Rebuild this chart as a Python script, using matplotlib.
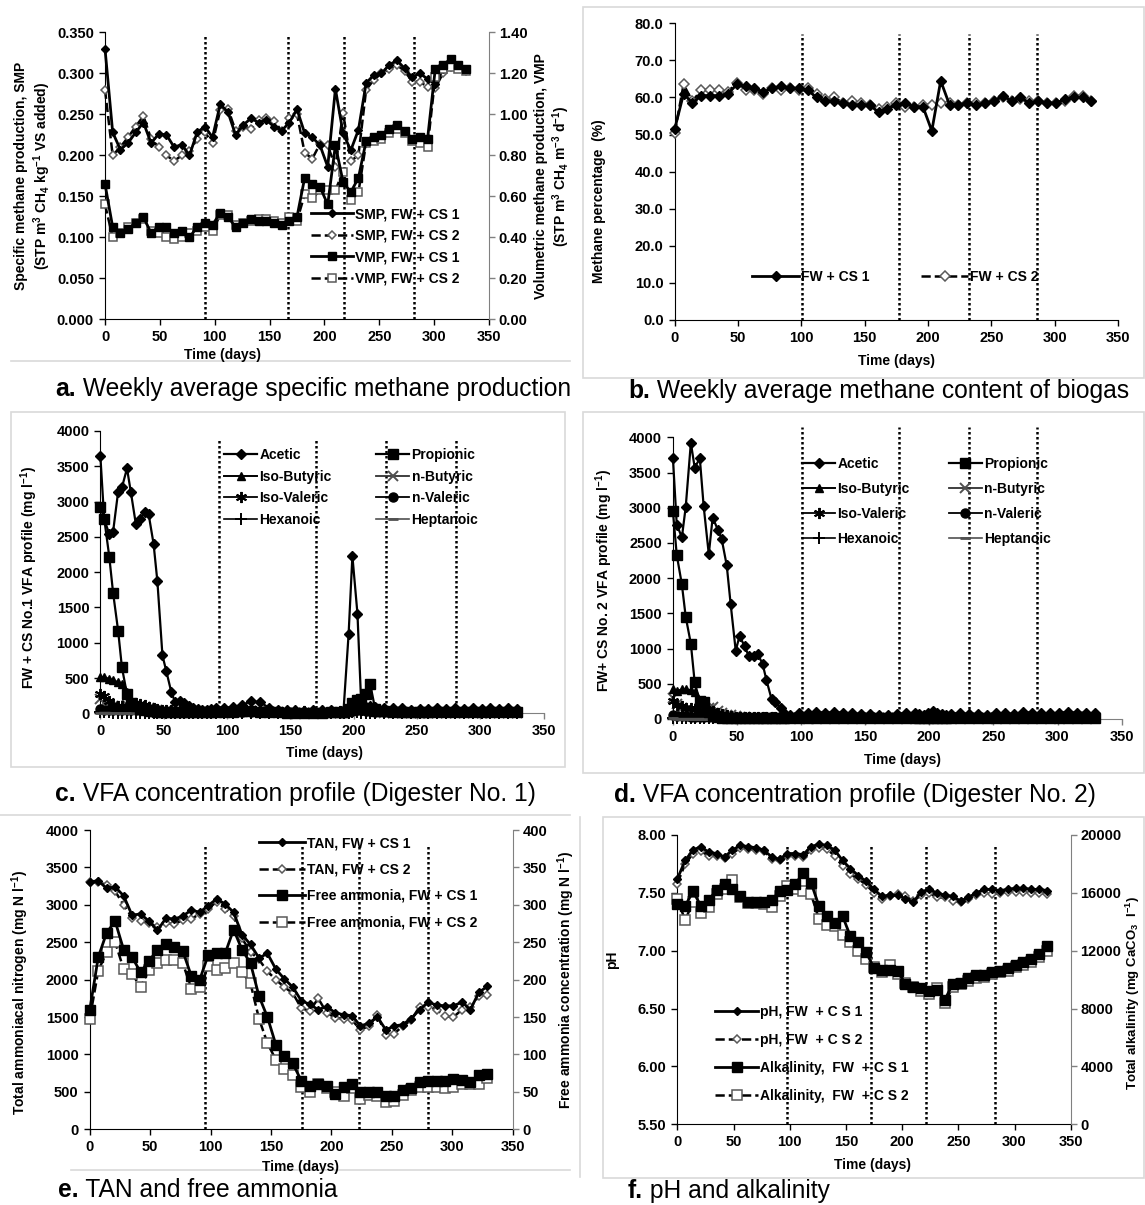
import numpy as np
import matplotlib
matplotlib.use('Agg')
import matplotlib.pyplot as plt
from matplotlib.patches import Rectangle
from matplotlib.lines import Line2D

plt.rcParams['font.family'] = ['Liberation Sans', 'DejaVu Sans']
plt.rcParams['font.weight'] = 'bold'
plt.rcParams['mathtext.fontset'] = 'custom'
plt.rcParams['mathtext.rm'] = 'Liberation Sans:bold'
plt.rcParams['mathtext.it'] = 'Liberation Sans:bold'
plt.rcParams['mathtext.bf'] = 'Liberation Sans:bold'
plt.rcParams['mathtext.default'] = 'rm'

# ---------------- DATA ----------------
DAYS = [0, 7, 14, 21, 28, 35, 42, 49, 56, 63, 70, 77, 84, 91, 98, 105, 112, 119, 126, 133,
        140, 147, 154, 161, 168, 175, 182, 189, 196, 203, 210, 217, 224, 231, 238, 245, 252,
        259, 266, 273, 280, 287, 294, 301, 308, 315, 322, 329]

SMP_CS1 = [0.330, 0.228, 0.207, 0.215, 0.228, 0.240, 0.215, 0.226, 0.225, 0.210,
           0.213, 0.200, 0.228, 0.235, 0.222, 0.262, 0.253, 0.225, 0.237, 0.245,
           0.240, 0.243, 0.235, 0.230, 0.240, 0.256, 0.227, 0.222, 0.212, 0.186,
           0.281, 0.227, 0.206, 0.231, 0.288, 0.298, 0.300, 0.310, 0.316, 0.306,
           0.295, 0.300, 0.293, 0.287, 0.305, 0.310, 0.308, 0.305]
SMP_CS2 = [0.280, 0.200, 0.210, 0.222, 0.235, 0.248, 0.220, 0.210, 0.200, 0.193,
           0.200, 0.205, 0.220, 0.228, 0.215, 0.255, 0.257, 0.230, 0.235, 0.232,
           0.243, 0.245, 0.242, 0.230, 0.245, 0.250, 0.203, 0.196, 0.214, 0.212,
           0.186, 0.252, 0.193, 0.200, 0.280, 0.292, 0.300, 0.305, 0.310, 0.303,
           0.290, 0.290, 0.283, 0.282, 0.300, 0.308, 0.307, 0.303]
VMP_CS1 = [0.66, 0.45, 0.42, 0.44, 0.47, 0.50, 0.42, 0.45, 0.45, 0.42,
           0.43, 0.40, 0.45, 0.47, 0.46, 0.52, 0.50, 0.45, 0.47, 0.49,
           0.48, 0.48, 0.47, 0.46, 0.48, 0.50, 0.69, 0.66, 0.645, 0.56,
           0.85, 0.67, 0.62, 0.69, 0.87, 0.89, 0.90, 0.93, 0.95, 0.92,
           0.88, 0.89, 0.88, 1.22, 1.24, 1.27, 1.24, 1.22]
VMP_CS2 = [0.56, 0.40, 0.42, 0.45, 0.47, 0.49, 0.43, 0.42, 0.40, 0.39,
           0.40, 0.42, 0.43, 0.45, 0.43, 0.51, 0.51, 0.46, 0.47, 0.48,
           0.49, 0.49, 0.48, 0.47, 0.50, 0.48, 0.61, 0.59, 0.63, 0.63,
           0.63, 0.72, 0.58, 0.62, 0.86, 0.87, 0.88, 0.91, 0.93, 0.91,
           0.87, 0.86, 0.84, 1.18, 1.22, 1.23, 1.22, 1.21]

CH4_CS1 = [51.5, 61.0, 58.5, 60.5, 60.5, 60.5, 61.0, 63.5, 63.0, 62.5,
           61.5, 62.5, 63.0, 62.5, 62.5, 62.0, 60.0, 59.0, 59.0, 58.5,
           58.0, 58.0, 58.0, 56.0, 57.0, 58.0, 58.5, 57.5, 57.5, 51.0,
           64.5, 58.0, 58.0, 58.5, 58.0, 58.5, 59.0, 60.5, 59.0, 60.0,
           58.5, 59.0, 58.5, 58.5, 59.5, 60.0, 60.0, 59.0]
CH4_CS2 = [50.5, 63.5, 59.0, 62.0, 62.0, 62.0, 61.5, 64.0, 62.0, 62.0,
           61.0, 62.5, 62.0, 62.5, 62.0, 62.5, 61.0, 59.5, 60.0, 58.5,
           59.0, 58.5, 58.0, 57.0, 57.5, 58.5, 57.5, 57.5, 58.0, 58.0,
           58.5, 58.5, 58.0, 58.5, 58.5, 58.5, 59.0, 60.0, 59.0, 59.5,
           59.0, 59.0, 58.5, 58.5, 59.0, 60.5, 60.5, 59.0]

VFA_DAYS = [0, 3, 7, 10, 14, 17, 21, 24, 28, 31, 35, 38, 42, 45, 49, 52, 56, 59, 63, 66,
            70, 73, 77, 80, 84, 87, 91,
            98, 105, 112, 119, 126, 133, 140, 147, 154, 161, 168, 175, 182, 189,
            192, 196, 199, 203, 206, 210, 213, 217,
            224, 231, 238, 245, 252, 259, 266, 273, 280, 287, 294, 301, 308, 315, 322, 329]

C_ACETIC = [3640, 2750, 2540, 2570, 3140, 3200, 3470, 3140, 2680, 2750,
            2850, 2830, 2400, 1870, 820, 600, 300, 160, 170, 150, 100, 70, 60, 50, 50, 60, 80,
            70, 90, 120, 170, 160, 80, 50, 40, 40, 30, 40, 40, 40, 30,
            40, 1120, 2230, 1410, 120, 90, 100, 90,
            80, 70, 80, 50, 60, 60, 70, 60, 70, 60, 70, 60, 70, 60, 70, 60]
C_PROPIONIC = [2920, 2760, 2220, 1710, 1170, 650, 270, 150, 100, 60,
               40, 30, 30, 20, 20, 20, 20, 20, 20, 20, 20, 20, 20, 20, 20, 20, 20,
               20, 20, 30, 30, 20, 20, 20, 10, 10, 10, 10, 10, 20, 20,
               20, 60, 150, 190, 200, 270, 420, 60,
               30, 20, 20, 20, 20, 20, 20, 20, 20, 20, 20, 20, 20, 20, 20, 20]
C_ISOBUTYRIC = [520, 510, 490, 470, 440, 420, 300, 160, 120, 100,
                90, 80, 70, 50, 30, 20, 20, 20, 20, 20, 20, 20, 20, 20, 20, 20, 20,
                20, 20, 20, 30, 30, 20, 20, 20, 10, 10, 10, 10, 10, 10,
                10, 20, 30, 40, 40, 40, 30, 20,
                20, 20, 10, 10, 10, 10, 20, 20, 20, 20, 20, 20, 20, 20, 20, 20]
C_NBUTYRIC = [200, 150, 120, 100, 80, 90, 120, 130, 120, 110,
              90, 70, 50, 40, 30, 30, 20, 20, 20, 20, 20, 20, 20, 20, 20, 20, 20,
              20, 20, 30, 30, 30, 20, 20, 10, 10, 10, 10, 10, 10, 10,
              10, 30, 60, 80, 70, 50, 30, 20,
              10, 10, 10, 10, 10, 10, 10, 10, 10, 10, 10, 10, 10, 10, 10, 10]
C_ISOVALERIC = [270, 240, 180, 120, 100, 110, 90, 80, 140, 130,
                120, 90, 70, 60, 50, 40, 40, 40, 40, 30, 30, 30, 30, 30, 30, 30, 30,
                30, 30, 40, 40, 40, 30, 30, 30, 30, 30, 30, 30, 30, 30,
                30, 40, 50, 60, 50, 40, 40, 30,
                30, 30, 30, 30, 30, 30, 30, 30, 30, 30, 30, 30, 30, 30, 30, 30]
C_NVALERIC = [60, 50, 50, 40, 40, 40, 50, 50, 50, 40,
              40, 40, 30, 30, 30, 20, 20, 20, 20, 20, 20, 20, 20, 20, 20, 20, 20,
              20, 20, 20, 20, 20, 20, 20, 20, 20, 20, 20, 20, 20, 20,
              20, 30, 40, 40, 40, 30, 30, 20,
              20, 20, 20, 20, 20, 20, 20, 20, 20, 20, 20, 20, 20, 20, 20, 20]
C_HEXANOIC = [20, 20, 20, 10, 10, 10, 10, 10, 10, 10,
              10, 10, 10, 10, 10, 10, 10, 10, 10, 10, 10, 10, 10, 10, 10, 10, 10,
              10, 10, 10, 10, 10, 10, 10, 10, 10, 10, 10, 10, 10, 10,
              10, 10, 20, 20, 10, 10, 10, 10,
              10, 10, 10, 10, 10, 10, 10, 10, 10, 10, 10, 10, 10, 10, 10, 10]
C_HEPTANOIC = [10, 10, 10, 5, 5, 5, 5, 5, 5, 5,
               5, 5, 5, 5, 5, 5, 5, 5, 5, 5, 5, 5, 5, 5, 5, 5, 5,
               5, 5, 5, 5, 5, 5, 5, 5, 5, 5, 5, 5, 5, 5,
               5, 5, 5, 5, 5, 5, 5, 5,
               5, 5, 5, 5, 5, 5, 5, 5, 5, 5, 5, 5, 5, 5, 5, 5]

D_ACETIC = [3710, 2760, 2580, 3010, 3920, 3570, 3700, 3020, 2340, 2860,
            2690, 2560, 2180, 1640, 970, 1180, 1030, 900, 900, 930, 780, 550, 280, 240, 150, 80, 60,
            80, 90, 100, 90, 100, 90, 80, 70, 70, 60, 60, 70, 80, 90,
            70, 60, 80, 120, 80, 70, 60, 70,
            80, 70, 70, 60, 80, 80, 70, 100, 90, 80, 80, 90, 100, 90, 90, 80]
D_PROPIONIC = [2950, 2330, 1910, 1450, 1070, 520, 250, 240, 100, 60,
               30, 20, 20, 20, 20, 20, 20, 20, 20, 20, 20, 20, 20, 20, 20, 20, 20,
               20, 20, 20, 20, 20, 20, 20, 10, 10, 10, 10, 20, 20, 20,
               20, 20, 20, 20, 20, 20, 20, 20,
               20, 20, 20, 20, 20, 20, 20, 20, 20, 20, 20, 20, 20, 20, 20, 20]
D_ISOBUTYRIC = [430, 400, 420, 420, 410, 390, 250, 150, 100, 80,
                60, 50, 40, 30, 20, 20, 20, 20, 20, 20, 20, 20, 20, 20, 20, 20, 20,
                20, 20, 20, 20, 20, 20, 20, 20, 20, 20, 20, 20, 20, 20,
                20, 20, 20, 20, 20, 20, 20, 20,
                20, 20, 20, 20, 20, 20, 20, 20, 20, 20, 20, 20, 20, 20, 20, 20]
D_NBUTYRIC = [300, 220, 160, 120, 100, 130, 150, 170, 160, 170,
              120, 80, 60, 50, 40, 30, 30, 20, 20, 20, 20, 20, 20, 20, 20, 20, 20,
              10, 10, 10, 10, 10, 10, 10, 10, 10, 10, 10, 10, 10, 10,
              10, 10, 10, 10, 10, 10, 10, 10,
              10, 10, 10, 10, 10, 10, 10, 10, 10, 10, 10, 10, 10, 10, 10, 10]
D_ISOVALERIC = [250, 200, 180, 150, 160, 140, 120, 100, 120, 110,
                90, 70, 50, 40, 30, 30, 30, 30, 30, 30, 30, 30, 30, 30, 30, 30, 30,
                30, 30, 30, 30, 30, 30, 30, 30, 30, 30, 30, 30, 30, 30,
                30, 30, 30, 40, 30, 30, 30, 30,
                30, 30, 30, 30, 30, 30, 30, 30, 30, 30, 30, 30, 30, 30, 30, 30]
D_NVALERIC = [50, 40, 40, 40, 30, 30, 30, 30, 30, 30,
              30, 20, 20, 20, 20, 20, 20, 20, 20, 20, 20, 20, 20, 20, 20, 20, 20,
              20, 20, 20, 20, 20, 20, 20, 20, 20, 20, 20, 20, 20, 20,
              20, 20, 20, 20, 20, 20, 20, 20,
              20, 20, 20, 20, 20, 20, 20, 20, 20, 20, 20, 20, 20, 20, 20, 20]
D_HEXANOIC = [20, 20, 10, 10, 10, 10, 10, 10, 10, 10,
              10, 10, 10, 10, 10, 10, 10, 10, 10, 10, 10, 10, 10, 10, 10, 10, 10,
              10, 10, 10, 10, 10, 10, 10, 10, 10, 10, 10, 10, 10, 10,
              10, 10, 10, 10, 10, 10, 10, 10,
              10, 10, 10, 10, 10, 10, 10, 10, 10, 10, 10, 10, 10, 10, 10, 10]
D_HEPTANOIC = [10, 5, 5, 5, 5, 5, 5, 5, 5, 5,
               5, 5, 5, 5, 5, 5, 5, 5, 5, 5, 5, 5, 5, 5, 5, 5, 5,
               5, 5, 5, 5, 5, 5, 5, 5, 5, 5, 5, 5, 5, 5,
               5, 5, 5, 5, 5, 5, 5, 5,
               5, 5, 5, 5, 5, 5, 5, 5, 5, 5, 5, 5, 5, 5, 5, 5]

TAN_CS1 = [3310, 3320, 3220, 3240, 3120, 2860, 2880, 2780, 2660, 2820,
           2810, 2850, 2930, 2900, 2990, 3080, 3010, 2900, 2600, 2470,
           2290, 2350, 2140, 2010, 1900, 1720, 1670, 1600, 1640, 1560,
           1530, 1520, 1380, 1420, 1500, 1330, 1380, 1400, 1480, 1600,
           1700, 1660, 1650, 1650, 1700, 1600, 1830, 1910]
TAN_CS2 = [3300, 3300, 3270, 3180, 3000, 2830, 2790, 2760, 2700, 2760,
           2740, 2800, 2810, 2880, 2950, 3040, 2950, 2850, 2550, 2370,
           2270, 2110, 2000, 1900, 1820, 1620, 1580, 1750, 1560, 1490,
           1480, 1460, 1330, 1380, 1530, 1260, 1280, 1380, 1460, 1640,
           1640, 1600, 1510, 1500, 1600, 1630, 1780, 1800]
FA_CS1 = [160, 230, 263, 278, 240, 230, 210, 225, 240, 248,
          243, 238, 205, 200, 233, 235, 235, 267, 240, 222,
          178, 150, 113, 98, 88, 65, 58, 60, 58, 47,
          57, 60, 50, 50, 50, 45, 44, 53, 55, 63,
          65, 64, 64, 67, 66, 63, 72, 74]
FA_CS2 = [148, 212, 237, 250, 214, 208, 190, 213, 222, 226,
          226, 222, 188, 190, 218, 213, 215, 222, 210, 195,
          148, 115, 93, 80, 73, 57, 50, 60, 55, 50,
          45, 55, 40, 46, 45, 37, 38, 46, 52, 57,
          57, 56, 55, 56, 61, 60, 60, 69]

PH_CS1 = [7.62, 7.78, 7.87, 7.90, 7.85, 7.84, 7.81, 7.87, 7.91, 7.90,
          7.89, 7.87, 7.81, 7.79, 7.84, 7.84, 7.83, 7.90, 7.92, 7.91,
          7.87, 7.78, 7.71, 7.65, 7.60, 7.53, 7.47, 7.48, 7.48, 7.45,
          7.42, 7.51, 7.53, 7.50, 7.48, 7.47, 7.43, 7.46, 7.50, 7.53,
          7.53, 7.52, 7.53, 7.54, 7.54, 7.53, 7.53, 7.52]
PH_CS2 = [7.58, 7.75, 7.84, 7.86, 7.82, 7.82, 7.80, 7.84, 7.89, 7.88,
          7.87, 7.86, 7.79, 7.78, 7.82, 7.82, 7.81, 7.87, 7.89, 7.88,
          7.82, 7.73, 7.66, 7.62, 7.57, 7.50, 7.45, 7.47, 7.49, 7.47,
          7.43, 7.48, 7.50, 7.46, 7.46, 7.43, 7.42, 7.45, 7.48, 7.50,
          7.49, 7.50, 7.51, 7.51, 7.51, 7.50, 7.50, 7.49]
ALK_CS1 = [15200, 15100, 16100, 15100, 15500, 16200, 16600, 16300, 15800, 15400,
           15400, 15400, 15500, 16100, 16200, 16600, 17400, 16700, 15100, 14400,
           13900, 14400, 13000, 12600, 11900, 10800, 10700, 10700, 10600, 9700,
           9500, 9400, 9200, 9300, 8600, 9700, 9800, 10100, 10300, 10300,
           10500, 10600, 10800, 11000, 11200, 11400, 11800, 12300]
ALK_CS2 = [15600, 14100, 15400, 14600, 15000, 15900, 16300, 16900, 15700, 15300,
           15300, 15200, 15000, 15800, 16500, 16300, 16100, 15900, 14200, 13800,
           13700, 13100, 12600, 12000, 11400, 10900, 10500, 11000, 10400, 9800,
           9500, 9200, 9000, 9400, 8400, 9500, 9700, 9900, 10100, 10200,
           10400, 10500, 10600, 10900, 11000, 11200, 11600, 12000]

VLINES_A = [91, 167, 218, 281.5]
VLINES_B = [100.5, 177.4, 232, 286]
VLINES_C = [94, 170, 225.7, 281]
VLINES_D = [100.7, 176.7, 230.9, 284.2]
VLINES_E = [95, 176, 222.4, 279.6]
VLINES_F = [98, 172.4, 221.6, 283]

# ---------------- FIGURE ----------------
W, H = 1145, 1205
fig = plt.figure(figsize=(W / 100, H / 100), dpi=100)

GRAY = '#808080'
OPEN_EDGE = '#5a5a5a'
TICK_FS = 10.5
LAB_FS = 10
LEG_FS = 10
CAP_FS = 17.7


def px_axes(l, r, t, b):
    return fig.add_axes([l / W, 1 - b / H, (r - l) / W, (b - t) / H])


def ftext(x, y, s, **kw):
    return fig.text(x / W, 1 - y / H, s, **kw)


def box(l, t, r, b):
    fig.add_artist(Rectangle((l / W, 1 - b / H), (r - l) / W, (b - t) / H,
                             transform=fig.transFigure, fill=False,
                             ec='#d9d9d9', lw=1.2))


def hline(x0, x1, y):
    fig.add_artist(Line2D([x0 / W, x1 / W], [1 - y / H, 1 - y / H],
                          transform=fig.transFigure, color='#d9d9d9', lw=1.2))


def style_main(ax, bottom_color='black', left_color='black'):
    ax.spines['top'].set_visible(False)
    ax.spines['right'].set_visible(False)
    ax.spines['bottom'].set_color(bottom_color)
    ax.spines['left'].set_color(left_color)
    ax.tick_params(axis='both', direction='out', length=4, width=1,
                   labelsize=TICK_FS, pad=4)
    ax.tick_params(axis='x', colors=bottom_color, labelcolor='black')
    ax.tick_params(axis='y', colors=left_color, labelcolor='black')
    ax.set_xlim(0, 350)
    ax.set_xticks(np.arange(0, 351, 50))
    ax.patch.set_alpha(0)


def style_twin(ax):
    for s in ['top', 'left', 'bottom']:
        ax.spines[s].set_visible(False)
    ax.spines['right'].set_color(GRAY)
    ax.tick_params(axis='y', direction='out', length=4, width=1, colors=GRAY,
                   labelcolor='black', labelsize=TICK_FS, pad=3)
    ax.patch.set_alpha(0)


def vlines(ax, xs, y0, y1):
    ax.vlines(xs, y0, y1, colors='black', linestyles=(0, (1, 1)), lw=1.8,
              zorder=1, clip_on=False)


def caption(x, y, letter, rest):
    t = ftext(x, y, letter, fontsize=CAP_FS, fontweight='bold', va='center', ha='left')
    fig.axes[0].annotate(rest, xy=(1, 0), xycoords=t, va='bottom', ha='left',
                         fontsize=CAP_FS, fontweight='normal', annotation_clip=False)


def legend(ax, handles, x, y, **kw):
    opts = dict(loc='upper left', bbox_to_anchor=(x / W, 1 - y / H),
                bbox_transform=fig.transFigure, frameon=False, fontsize=LEG_FS,
                borderpad=0, borderaxespad=0, handletextpad=0.15)
    opts.update(kw)
    return ax.legend(handles=handles, **opts)


solid1 = dict(color='black', lw=2, ls='-', mfc='black', mec='black', clip_on=False, zorder=4)
dash2 = dict(color='black', lw=1.8, ls='--', mfc='white', mec=OPEN_EDGE, mew=1.1,
             clip_on=False, zorder=3)

# ---------- panel a ----------
axa = px_axes(105, 489, 32.3, 319.3)
style_main(axa)
axa.set_ylim(0, 0.35)
axa.set_yticks(np.arange(0, 0.351, 0.05))
axa.set_yticklabels(['%.3f' % v for v in np.arange(0, 0.351, 0.05)])
vlines(axa, VLINES_A, 0, 0.345)
h2, = axa.plot(DAYS, SMP_CS2, marker='D', ms=4.2, label='SMP, FW + CS 2', **dash2)
h1, = axa.plot(DAYS, SMP_CS1, marker='D', ms=4, label='SMP, FW + CS 1', **solid1)
axa2 = axa.twinx()
style_twin(axa2)
axa2.set_ylim(0, 1.4)
axa2.set_yticks(np.arange(0, 1.41, 0.2))
axa2.set_yticklabels(['%.2f' % v for v in np.arange(0, 1.41, 0.2)])
h4, = axa2.plot(DAYS, VMP_CS2, marker='s', ms=5.5, label='VMP, FW + CS 2', **dash2)
h3, = axa2.plot(DAYS, VMP_CS1, marker='s', ms=5.5, label='VMP, FW + CS 1', **solid1)
legend(axa2, [h1, h2, h3, h4], 311, 207, handlelength=3.0, labelspacing=0.55)
ftext(222, 355, 'Time (days)', fontsize=LAB_FS, ha='center', va='center')
ftext(33.5, 176, 'Specific methane production, SMP\n(STP m$^3$ CH$_4$ kg$^{-1}$ VS added)',
      rotation=90, fontsize=LAB_FS, ha='center', va='center', multialignment='center')
ftext(553, 176, 'Volumetric methane production, VMP\n(STP m$^3$ CH$_4$ m$^{-3}$ d$^{-1}$)',
      rotation=90, fontsize=LAB_FS, ha='center', va='center', multialignment='center')

# ---------- panel b ----------
axb = px_axes(674.7, 1118, 23.3, 320)
style_main(axb)
axb.set_ylim(0, 80)
axb.set_yticks(np.arange(0, 81, 10))
axb.set_yticklabels(['%.1f' % v for v in np.arange(0, 81, 10)])
vlines(axb, VLINES_B, 0, 77)
b2, = axb.plot(DAYS, CH4_CS2, marker='D', ms=4.8, label='FW + CS 2', **dash2)
b1, = axb.plot(DAYS, CH4_CS1, marker='D', ms=4.8, label='FW + CS 1', **solid1)
legend(axb, [b1, b2], 752, 270, ncol=2, handlelength=3.4, columnspacing=3.7)
ftext(897, 361, 'Time (days)', fontsize=LAB_FS, ha='center', va='center')
ftext(599, 201, 'Methane percentage  (%)', rotation=90, fontsize=LAB_FS,
      ha='center', va='center')


# ---------- VFA panels ----------
def vfa_panel(ax, data, vl, vtop, leg_x, leg_y, leg_spacing, colsp):
    style_main(ax, bottom_color=GRAY)
    ax.set_ylim(0, 4000)
    ax.set_yticks(np.arange(0, 4001, 500))
    vlines(ax, vl, 0, vtop)
    acet, prop, ibut, nbut, ival, nval, hexa, hept = data
    common = dict(clip_on=False)
    hA, = ax.plot(VFA_DAYS, acet, '-', color='black', lw=1.6, marker='D', ms=5,
                  mfc='black', mec='black', label='Acetic', zorder=6, **common)
    hP, = ax.plot(VFA_DAYS, prop, '-', color='black', lw=1.6, marker='s', ms=7,
                  mfc='black', mec='black', label='Propionic', zorder=5, **common)
    hIB, = ax.plot(VFA_DAYS, ibut, '-', color='black', lw=1.4, marker='^', ms=6,
                   mfc='black', mec='black', label='Iso-Butyric', zorder=4, **common)
    hNB, = ax.plot(VFA_DAYS, nbut, '-', color='#303030', lw=1.3, marker='x', ms=7,
                   mec='#505050', mew=1.4, label='n-Butyric', zorder=3, **common)
    hIV, = ax.plot(VFA_DAYS, ival, '-', color='black', lw=1.3, marker=(6, 2, 0), ms=8,
                   mec='black', mew=1.4, label='Iso-Valeric', zorder=3, **common)
    hNV, = ax.plot(VFA_DAYS, nval, '-', color='black', lw=1.3, marker='o', ms=6.5,
                   mfc='black', mec='black', label='n-Valeric', zorder=3, **common)
    hH, = ax.plot(VFA_DAYS, hexa, '-', color='black', lw=1.2, marker='+', ms=8,
                  mew=1.4, label='Hexanoic', zorder=3, **common)
    hHp, = ax.plot(VFA_DAYS, hept, '-', color='#505050', lw=1.2, marker='_', ms=7,
                   mew=2, label='Heptanoic', zorder=3, **common)
    handles = [hA, hIB, hIV, hH, hP, hNB, hNV, hHp]
    legend(ax, handles, leg_x, leg_y, ncol=2, handlelength=2.4,
           labelspacing=leg_spacing, columnspacing=colsp)


axc = px_axes(100.4, 543.6, 431, 713.3)
vfa_panel(axc, [C_ACETIC, C_PROPIONIC, C_ISOBUTYRIC, C_NBUTYRIC, C_ISOVALERIC,
                C_NVALERIC, C_HEXANOIC, C_HEPTANOIC],
          VLINES_C, 3870, 224, 448, 0.55, 3.2)
ftext(325, 753, 'Time (days)', fontsize=LAB_FS, ha='center', va='center')
ftext(29, 578, 'FW + CS No.1 VFA profile (mg l$^{-1}$)', rotation=90, fontsize=LAB_FS,
      ha='center', va='center')

axd = px_axes(672.9, 1121.6, 437.3, 719)
vfa_panel(axd, [D_ACETIC, D_PROPIONIC, D_ISOBUTYRIC, D_NBUTYRIC, D_ISOVALERIC,
                D_NVALERIC, D_HEXANOIC, D_HEPTANOIC],
          VLINES_D, 4150, 802, 457, 0.8, 2.8)
ftext(902, 760, 'Time (days)', fontsize=LAB_FS, ha='center', va='center')
ftext(604.5, 581, 'FW+ CS No. 2 VFA profile (mg l$^{-1}$)', rotation=90, fontsize=LAB_FS,
      ha='center', va='center')

# ---------- panel e ----------
axe = px_axes(89.8, 512.7, 830, 1129.3)
style_main(axe)
axe.set_ylim(0, 4000)
axe.set_yticks(np.arange(0, 4001, 500))
vlines(axe, VLINES_E, 0, 3808)
e2, = axe.plot(DAYS, TAN_CS2, marker='D', ms=4.5, label='TAN, FW + CS 2', **dash2)
e1, = axe.plot(DAYS, TAN_CS1, marker='D', ms=4.5, label='TAN, FW + CS 1', **solid1)
axe2 = axe.twinx()
style_twin(axe2)
axe2.set_ylim(0, 400)
axe2.set_yticks(np.arange(0, 401, 50))
e4, = axe2.plot(DAYS, FA_CS2, marker='s', ms=6.5, label='Free ammonia, FW + CS 2', **dash2)
e3, = axe2.plot(DAYS, FA_CS1, marker='s', ms=6.5, label='Free ammonia, FW + CS 1', **solid1)
legend(axe2, [e1, e2, e3, e4], 259, 836, handlelength=3.3, labelspacing=0.9)
ftext(300, 1167, 'Time (days)', fontsize=LAB_FS, ha='center', va='center')
ftext(20, 993, 'Total ammoniacal nitrogen (mg N l$^{-1}$)', rotation=90, fontsize=LAB_FS,
      ha='center', va='center')
ftext(566, 980, 'Free ammonia concentration (mg N l$^{-1}$)', rotation=90, fontsize=LAB_FS,
      ha='center', va='center')

# ---------- panel f ----------
axf = px_axes(677.3, 1070.7, 835, 1124.3)
style_main(axf)
axf.set_ylim(5.5, 8.0)
axf.set_yticks(np.arange(5.5, 8.01, 0.5))
axf.set_yticklabels(['%.2f' % v for v in np.arange(5.5, 8.01, 0.5)])
vlines(axf, VLINES_F, 5.5, 7.92)
f2, = axf.plot(DAYS, PH_CS2, marker='D', ms=4.5, label='pH, FW  + C S 2', **dash2)
f1, = axf.plot(DAYS, PH_CS1, marker='D', ms=4.5, label='pH, FW  + C S 1', **solid1)
axf2 = axf.twinx()
style_twin(axf2)
axf2.set_ylim(0, 20000)
axf2.set_yticks(np.arange(0, 20001, 4000))
f4, = axf2.plot(DAYS, ALK_CS2, marker='s', ms=6.5, label='Alkalinity,  FW  + C S 2', **dash2)
f3, = axf2.plot(DAYS, ALK_CS1, marker='s', ms=6.5, label='Alkalinity,  FW  + C S 1', **solid1)
legend(axf2, [f1, f2, f3, f4], 715, 1005, handlelength=3.1, labelspacing=1.0)
ftext(873, 1165, 'Time (days)', fontsize=LAB_FS, ha='center', va='center')
ftext(612, 960, 'pH', rotation=90, fontsize=LAB_FS, ha='center', va='center')
ftext(1133, 993, 'Total alkalinity (mg CaCO$_3$  l$^{-1}$)', rotation=90, fontsize=9.5,
      ha='center', va='center')

# ---------- frames & captions ----------
hline(11, 570, 361)
box(583, 7, 1144, 378)
box(11, 412, 565, 767)
box(583, 412, 1144, 773)
hline(0, 570, 815)
hline(71, 570, 1170)
box(603, 817, 1144, 1178)
fig.add_artist(Line2D([580 / W, 580 / W], [1 - 817 / H, 1 - 1177 / H],
                      transform=fig.transFigure, color='#d9d9d9', lw=1.2))

caption(55, 389, 'a.', ' Weekly average specific methane production')
caption(628, 391, 'b.', ' Weekly average methane content of biogas')
caption(55, 794, 'c.', ' VFA concentration profile (Digester No. 1)')
caption(614, 795, 'd.', ' VFA concentration profile (Digester No. 2)')
caption(58, 1190, 'e.', ' TAN and free ammonia')
caption(628, 1191, 'f.', ' pH and alkalinity')

fig.savefig('out.png', dpi=100)
